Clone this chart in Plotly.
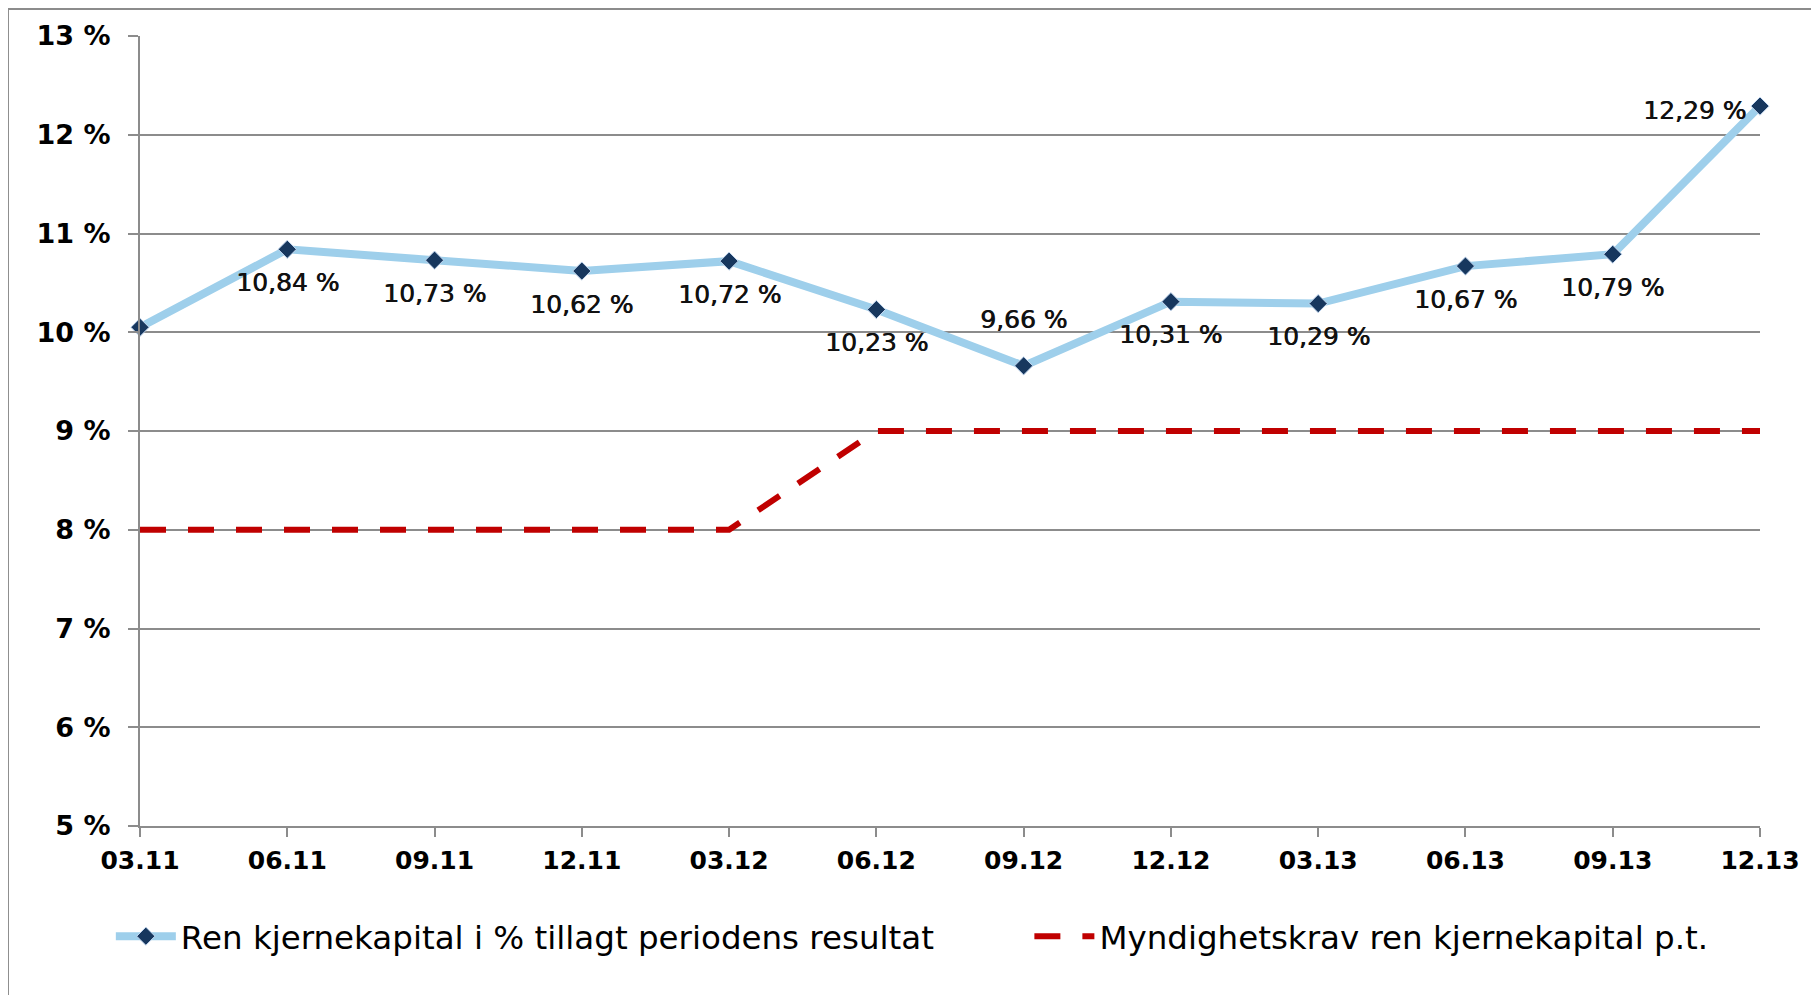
import plotly.graph_objects as go

periods = ["03.11", "06.11", "09.11", "12.11", "03.12", "06.12",
           "09.12", "12.12", "03.13", "06.13", "09.13", "12.13"]
ren_kjernekapital = [10.05, 10.84, 10.73, 10.62, 10.72, 10.23,
                     9.66, 10.31, 10.29, 10.67, 10.79, 12.29]
myndighetskrav = [8, 8, 8, 8, 8, 9, 9, 9, 9, 9, 9, 9]
label_pos = [None, "below", "below", "below", "below", "below",
             "above", "below", "below", "below", "below", "left"]
y_ticks = [5, 6, 7, 8, 9, 10, 11, 12, 13]

name1 = "Ren kjernekapital i % tillagt periodens resultat"
name2 = "Myndighetskrav ren kjernekapital p.t."

GRID = "#8c8c8c"
fig = go.Figure()
fig.add_trace(go.Scatter(
    x=periods, y=ren_kjernekapital, mode="lines+markers", name=name1,
    line=dict(color="#9ecfeb", width=8),
    marker=dict(symbol="diamond", size=14, color="#17375e",
                line=dict(color="#c5d9f1", width=1)),
    legend="legend", cliponaxis=False,
))
fig.add_trace(go.Scatter(
    x=periods, y=myndighetskrav, mode="lines", name=name2,
    line=dict(color="#c00000", width=6, dash="26px,22px"),
    legend="legend2",
))

annotations = []
for i, (v, pos) in enumerate(zip(ren_kjernekapital, label_pos)):
    if pos is None:
        continue
    txt = f"{v:.2f}".replace(".", ",") + " %"
    a = dict(x=i, y=v, xref="x", yref="y", text=txt, showarrow=False,
             font=dict(family="DejaVu Sans", size=25, color="#111111",
                       shadow="0.7px 0 0 #111111"))
    if pos == "below":
        a.update(yanchor="middle", xanchor="center", yshift=-33)
    elif pos == "above":
        a.update(yanchor="middle", xanchor="center", yshift=46)
    else:
        a.update(yanchor="middle", xanchor="right", xshift=-12, yshift=-4)
    annotations.append(a)

fig.update_layout(
    width=1811, height=987,
    margin=dict(l=132, r=59, t=28, b=169),
    paper_bgcolor="white", plot_bgcolor="white",
    annotations=annotations,
    showlegend=True,
    legend=dict(orientation="h", x=-0.018, xanchor="left", y=-0.14,
                yanchor="middle", font=dict(family="DejaVu Sans", size=32.5, color="#000000"),
                bgcolor="rgba(0,0,0,0)", itemwidth=60),
    legend2=dict(orientation="h", x=0.549, xanchor="left", y=-0.14,
                 yanchor="middle", font=dict(family="DejaVu Sans", size=32.5, color="#000000"),
                 bgcolor="rgba(0,0,0,0)", itemwidth=60),
    shapes=[dict(type="rect", xref="paper", yref="paper",
                 x0=-0.0815, x1=1.034, y0=-0.3, y1=1.0342,
                 line=dict(color=GRID, width=2), layer="below")],
)
fig.update_xaxes(
    type="category", range=[0, 11], showgrid=False,
    showline=True, linecolor=GRID, linewidth=2,
    ticks="outside", ticklen=9, tickcolor=GRID, tickwidth=2,
    tickfont=dict(family="DejaVu Sans", size=25, color="#000000", weight="bold"),
    ticklabelstandoff=2,
)
fig.update_yaxes(
    range=[5, 13], tickvals=y_ticks, ticktext=[f"{v} %" for v in y_ticks],
    showgrid=True, gridcolor=GRID, gridwidth=2,
    showline=True, linecolor=GRID, linewidth=2,
    ticks="outside", ticklen=10, tickcolor=GRID, tickwidth=2,
    tickfont=dict(family="DejaVu Sans", size=27, color="#000000", weight="bold"),
    ticklabelstandoff=12, zeroline=False,
)
fig.write_html("out.html")
